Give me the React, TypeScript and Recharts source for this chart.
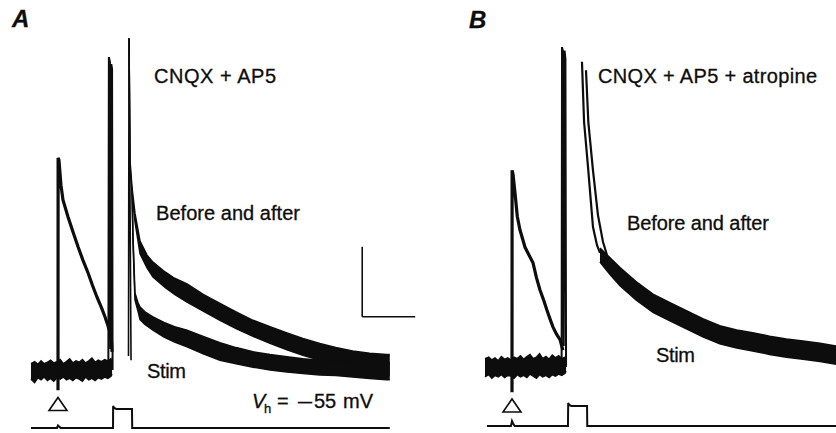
import React from 'react';
import { ComposedChart, Line, Area, Scatter, XAxis, YAxis, ReferenceLine } from 'recharts';

// ---------- Panel A : CNQX + AP5 (t in ms from stimulus, current in pA, command in mV) ----------
const baseA: number[][] = [
  [-25.5, -13, 9], [-22, -18, 12], [-19, -11, 8], [-16, -14, 13], [-13, -10, 9], [-10, -15, 11],
  [-7, -12, 14], [-4, -16, 10], [-1, -11, 12], [2, -13, 15], [5, -10, 9], [8, -14, 12],
  [11, -12, 16], [14, -15, 10], [17, -11, 13], [20, -13, 11], [23, -16, 15], [26, -10, 10],
  [29, -14, 13], [32, -12, 17], [35, -15, 11], [38, -11, 14], [41, -13, 12], [44, -10, 15],
  [47, -12, 13], [50, -9, 16], [51, -6, 10],
];
const evokedA: number[][] = [
  [0, 0], [0, -29], [0.1, 303], [0.9, 300], [2.8, 264], [4.7, 243], [9.4, 219], [14, 198],
  [18.9, 176], [23.5, 157], [28.3, 139], [32.5, 121], [36.8, 104], [41, 89], [44.3, 76],
  [47, 64], [49, 54], [50.5, 40], [51, 26],
];
const spikeA: number[][] = [
  [47.5, 0], [48, 447], [49, 440], [49.5, 30], [50.3, 437], [51, 430], [51.5, 0],
];
const artifactA: number[][] = [[66.5, 20], [67, 474], [68.9, 14]];
const upperA: number[][] = [
  [67, 474, 474], [67.9, 292, 300], [69.8, 253, 261], [72.6, 212, 224], [77.4, 166, 184],
  [84, 146, 164], [89.6, 133, 154], [101, 118, 140], [110, 108, 131], [121.7, 97, 123],
  [137, 84, 108], [152.8, 71, 95], [168, 59, 83], [184, 48, 71], [200, 38, 62], [216, 29, 53],
  [231, 21, 45], [247, 14, 38], [262, 8, 32], [278, 3, 27], [294, -2, 24], [310, -8, 22], [313, -8, 22],
];
const lowerA: number[][] = [
  [69.8, 253, 261], [70.8, 180, 190], [72.6, 100, 110], [75.5, 84, 96], [77.4, 72, 90],
  [82, 65, 83], [89.6, 57, 76], [100, 47, 68], [110, 40, 62], [121.7, 33, 57], [137, 23, 48],
  [152.8, 14, 39], [168, 9, 32], [184, 4, 26], [200, 0, 22], [216, -3, 19], [231, -5, 16],
  [247, -7, 14], [262, -8, 13], [278, -10, 11], [294, -12, 11], [310, -14, 11], [313, -14, 11],
];
const cmdA: number[][] = [
  [-25.5, -55], [-1, -55], [0, -50], [1, -52], [2.5, -55], [51.9, -55], [52, -11], [53, -15],
  [55, -17], [69.8, -17], [70, -55], [313, -55],
];
const stimMarkA: number[][] = [[0, -7]];

// ---------- Panel B : CNQX + AP5 + atropine ----------
const baseB: number[][] = [
  [-25.5, -14, 12], [-22, -11, 14], [-19, -16, 10], [-16, -12, 13], [-13, -14, 9], [-10, -11, 15],
  [-7, -15, 11], [-4, -12, 13], [-1, -13, 10], [2, -16, 14], [5, -11, 12], [8, -14, 16],
  [11, -12, 11], [14, -15, 15], [17, -10, 18], [20, -13, 12], [23, -16, 14], [26, -11, 19],
  [29, -14, 12], [32, -12, 15], [35, -15, 11], [38, -11, 17], [41, -13, 13], [44, -10, 16],
  [47, -12, 12], [50, -9, 14], [51, -6, 10],
];
const evokedB: number[][] = [
  [0, 0], [0, -36], [0.1, 281], [1, 275], [2.8, 249], [5, 215], [7.5, 196], [12.3, 171],
  [16, 160], [19.8, 149], [23, 128], [26.4, 110], [30, 95], [33, 81], [36, 68], [38.7, 57],
  [42, 47], [45.3, 39], [48, 24],
];
const spikeB: number[][] = [
  [46.8, 0], [47.2, 457], [48.2, 450], [48.8, 30], [49.6, 452], [50.4, 440], [51, 0],
];
const firstB: number[][] = [[66, 436], [68, 350], [71.7, 286], [76.4, 200], [80.2, 174], [83, 163]];
const secondB: number[][] = [[69.8, 424], [72, 350], [76.4, 281], [81.1, 217], [85.8, 179], [89.6, 160]];
const bandB: number[][] = [
  [83, 150, 170], [92.5, 132, 156], [101.9, 116, 142], [117, 96, 122], [133, 78, 104],
  [149, 66, 92], [165, 54, 80], [180, 43, 69], [196, 33, 59], [212, 27, 53], [227, 23, 49],
  [243, 18, 44], [259, 14, 40], [274.5, 11, 37], [290.6, 8, 34], [306, 4, 30],
];
const cmdB: number[][] = [
  [-23.6, -55], [-1, -55], [0, -45], [1, -50], [2.5, -55], [52.8, -55], [53, -9], [54, -13],
  [56, -15], [70.8, -15], [71, -55], [306, -55],
];
const stimMarkB: number[][] = [[0, -14]];

// Scale bar: 50 ms, 100 pA
const scaleBarA = { t: 287, i: 76, dt: 50, di: 100 };

const INK = '#0d0d0d';
const toLine = (a: number[][]) => a.map(([t, v]) => ({ t, v }));
const toBand = (a: number[][]) => a.map(([t, lo, hi]) => ({ t, r: [lo, hi] }));

const Tri = (p: any) => (
  <polygon
    points={`${p.cx - 9},${p.cy + 6.5} ${p.cx + 9},${p.cy + 6.5} ${p.cx},${p.cy - 6.5}`}
    fill="#fff"
    stroke={INK}
    strokeWidth={1.6}
  />
);

type PanelProps = {
  width: number;
  xDomain: [number, number];
  iDomain: [number, number];
  vDomain: [number, number];
  bands: number[][][];
  lines: { data: number[][]; w: number }[];
  cmd: number[][];
  mark: number[][];
  bar?: { t: number; i: number; dt: number; di: number };
};

function Panel({ width, xDomain, iDomain, vDomain, bands, lines, cmd, mark, bar }: PanelProps) {
  return (
    <ComposedChart width={width} height={433} margin={{ top: 0, right: 0, bottom: 0, left: 0 }}>
      <XAxis dataKey="t" type="number" domain={xDomain} allowDataOverflow hide />
      <YAxis yAxisId="i" type="number" domain={iDomain} allowDataOverflow hide />
      <YAxis yAxisId="v" type="number" domain={vDomain} allowDataOverflow hide />
      {bands.map((b, k) => (
        <Area
          key={'b' + k}
          yAxisId="i"
          data={toBand(b)}
          dataKey="r"
          type="linear"
          stroke={INK}
          strokeWidth={1.5}
          fill={INK}
          fillOpacity={1}
          dot={false}
          activeDot={false}
          isAnimationActive={false}
        />
      ))}
      {lines.map((l, k) => (
        <Line
          key={'l' + k}
          yAxisId="i"
          data={toLine(l.data)}
          dataKey="v"
          type="linear"
          stroke={INK}
          strokeWidth={l.w}
          dot={false}
          activeDot={false}
          isAnimationActive={false}
        />
      ))}
      <Line
        yAxisId="v"
        data={toLine(cmd)}
        dataKey="v"
        type="linear"
        stroke={INK}
        strokeWidth={2}
        dot={false}
        activeDot={false}
        isAnimationActive={false}
      />
      <Scatter yAxisId="v" data={toLine(mark)} dataKey="v" shape={Tri} isAnimationActive={false} />
      {bar && (
        <ReferenceLine
          yAxisId="i"
          segment={[{ x: bar.t, y: bar.i + bar.di }, { x: bar.t, y: bar.i }]}
          stroke={INK}
          strokeWidth={1.6}
          ifOverflow="visible"
        />
      )}
      {bar && (
        <ReferenceLine
          yAxisId="i"
          segment={[{ x: bar.t, y: bar.i }, { x: bar.t + bar.dt, y: bar.i }]}
          stroke={INK}
          strokeWidth={1.6}
          ifOverflow="visible"
        />
      )}
    </ComposedChart>
  );
}

const PX_PER_MS = 1.06;
const PX_PER_PA = 0.7;
const PX_PER_MV = 0.5;

export default function App() {
  const font = '"Liberation Sans", Arial, Helvetica, sans-serif';
  const wA = 418;
  const wB = 418;
  // panel A: stimulus at 58 px, current baseline at 370 px, command baseline at 428 px
  const xA: [number, number] = [-58 / PX_PER_MS, (wA - 58) / PX_PER_MS];
  const iA: [number, number] = [-(433 - 370) / PX_PER_PA, 370 / PX_PER_PA];
  const vA: [number, number] = [-55 - (433 - 428) / PX_PER_MV, -55 + 428 / PX_PER_MV];
  // panel B: stimulus at 94 px (local), current baseline at 367 px, command baseline at 426 px
  const xB: [number, number] = [-94 / PX_PER_MS, (wB - 94) / PX_PER_MS];
  const iB: [number, number] = [-(433 - 367) / PX_PER_PA, 367 / PX_PER_PA];
  const vB: [number, number] = [-55 - (433 - 426) / PX_PER_MV, -55 + 426 / PX_PER_MV];

  return (
    <div style={{ position: 'absolute', left: 0, top: 0, width: 836, height: 433, background: '#fff', overflow: 'hidden' }}>
      <div style={{ position: 'absolute', left: 0, top: 0 }}>
        <Panel
          width={wA}
          xDomain={xA}
          iDomain={iA}
          vDomain={vA}
          bands={[baseA, upperA, lowerA]}
          lines={[
            { data: evokedA, w: 3.2 },
            { data: spikeA, w: 2 },
            { data: artifactA, w: 1.6 },
          ]}
          cmd={cmdA}
          mark={stimMarkA}
          bar={scaleBarA}
        />
      </div>
      <div style={{ position: 'absolute', left: wA, top: 0 }}>
        <Panel
          width={wB}
          xDomain={xB}
          iDomain={iB}
          vDomain={vB}
          bands={[baseB, bandB]}
          lines={[
            { data: evokedB, w: 3.2 },
            { data: spikeB, w: 2 },
            { data: firstB, w: 2.2 },
            { data: secondB, w: 2.2 },
          ]}
          cmd={cmdB}
          mark={stimMarkB}
        />
      </div>
      <svg width={836} height={433} style={{ position: 'absolute', left: 0, top: 0, pointerEvents: 'none' }}>
        <g fill={INK} fontFamily={font} stroke={INK} strokeWidth={0.3}>
          <text x={12} y={27} fontSize={24} fontWeight="bold" fontStyle="italic">A</text>
          <text x={469} y={28} fontSize={24} fontWeight="bold" fontStyle="italic">B</text>
          <text x={154} y={83} fontSize={20} textLength={122} lengthAdjust="spacing">CNQX + AP5</text>
          <text x={156} y={220} fontSize={20} textLength={144} lengthAdjust="spacing">Before and after</text>
          <text x={147} y={378} fontSize={20} textLength={39} lengthAdjust="spacing">Stim</text>
          <text x={252} y={408} fontSize={20}>
            <tspan fontStyle="italic">V</tspan>
            <tspan x={264} dy={5} fontSize={13}>h</tspan>
            <tspan x={277} dy={-5}>=</tspan>
            <tspan x={298} textLength={14} lengthAdjust="spacingAndGlyphs">–</tspan>
            <tspan x={314}>55</tspan>
            <tspan x={343}>mV</tspan>
          </text>
          <text x={598} y={83} fontSize={20} textLength={219} lengthAdjust="spacing">CNQX + AP5 + atropine</text>
          <text x={627} y={230} fontSize={20} textLength={142} lengthAdjust="spacing">Before and after</text>
          <text x={656} y={362} fontSize={20} textLength={39} lengthAdjust="spacing">Stim</text>
        </g>
      </svg>
    </div>
  );
}
